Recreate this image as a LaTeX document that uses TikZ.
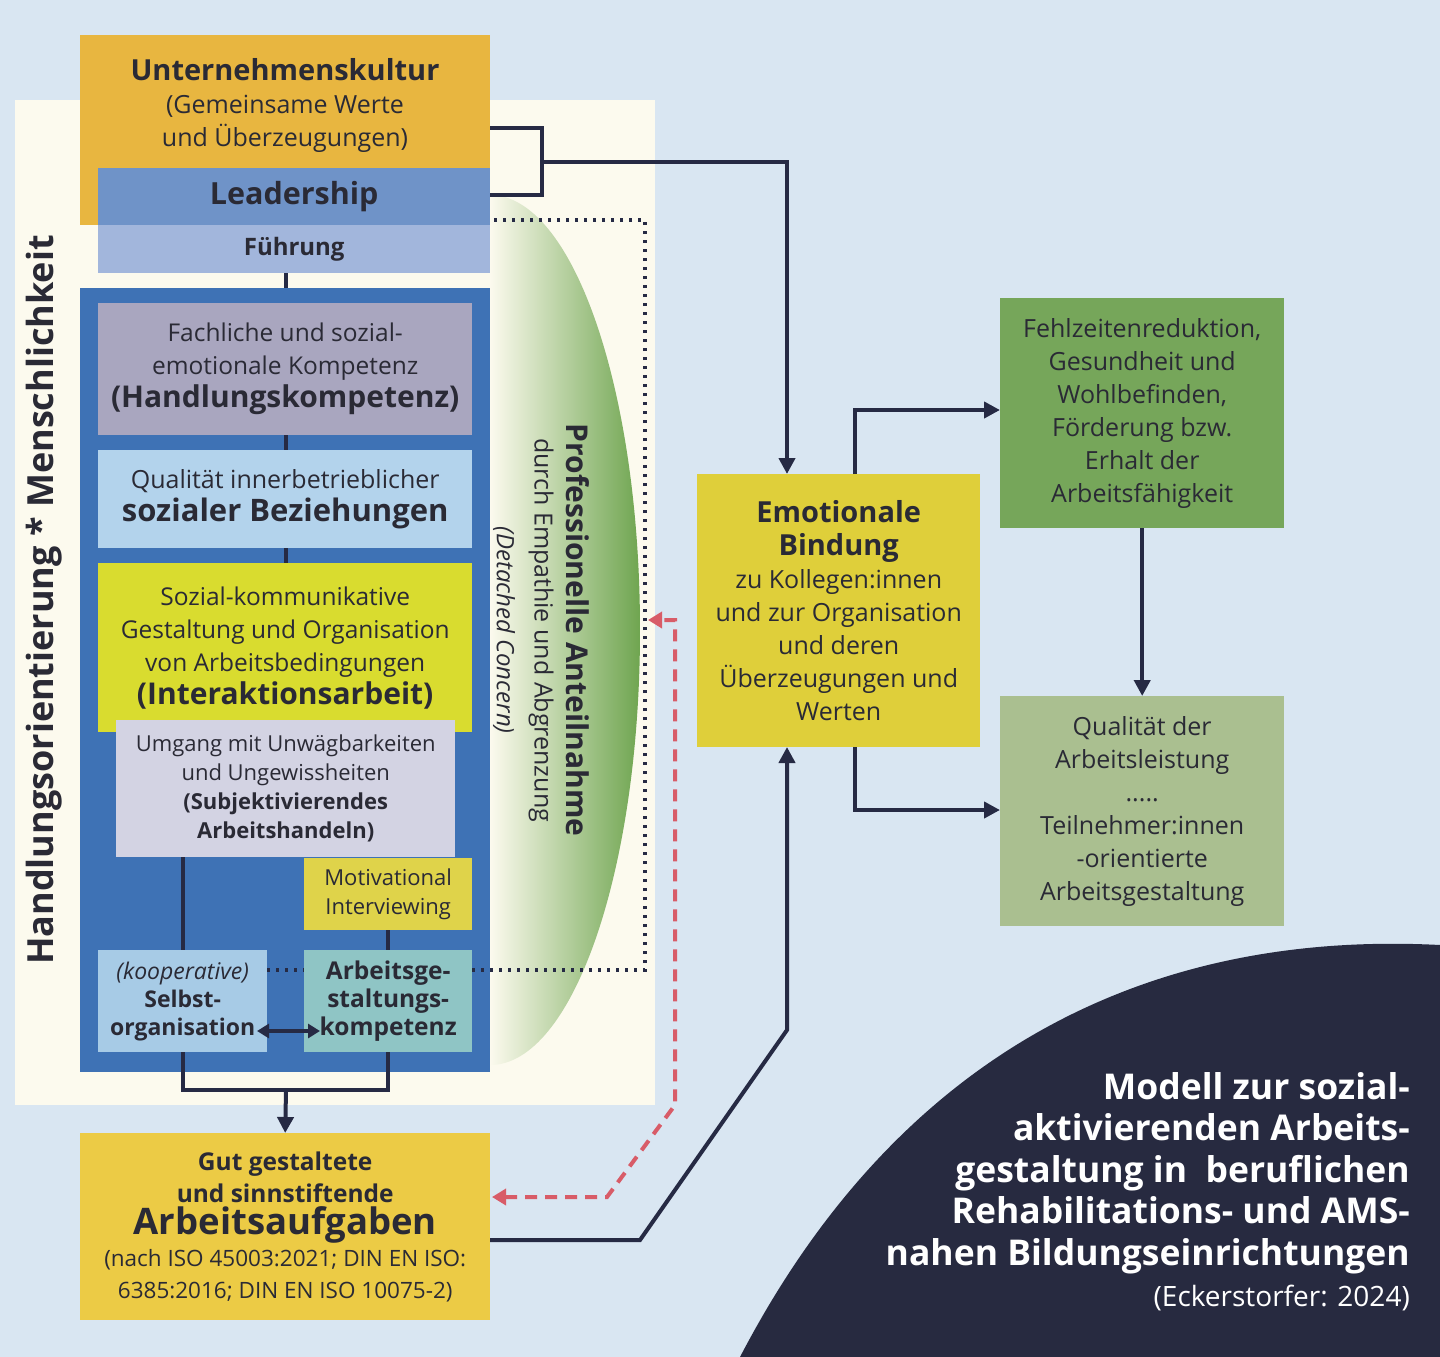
\documentclass[tikz,border=0pt]{standalone}
\usepackage{fontspec}
\setmainfont{Open Sans}
\usetikzlibrary{arrows.meta}
\definecolor{bg}{HTML}{D9E6F2}
\definecolor{cream}{HTML}{FCFAEE}
\definecolor{orng}{HTML}{E8B640}
\definecolor{lead}{HTML}{6F93C8}
\definecolor{fuehr}{HTML}{A2B6DC}
\definecolor{bigblue}{HTML}{3E72B5}
\definecolor{gray1}{HTML}{A9A6BF}
\definecolor{lblue}{HTML}{B3D3EC}
\definecolor{ylw}{HTML}{D9DC2F}
\definecolor{lgray}{HTML}{D3D3E3}
\definecolor{motiv}{HTML}{DFD34A}
\definecolor{selbst}{HTML}{A7CBE6}
\definecolor{teal1}{HTML}{8FC5C5}
\definecolor{gut}{HTML}{ECCB45}
\definecolor{emo}{HTML}{DFCF3A}
\definecolor{grn}{HTML}{76A65A}
\definecolor{lgrn}{HTML}{AABF90}
\definecolor{navy}{HTML}{272A40}
\definecolor{ln}{HTML}{262A44}
\definecolor{red1}{HTML}{D85C68}
\definecolor{txt}{HTML}{2A2A35}
\definecolor{ellg}{HTML}{6FA550}
\newcommand{\fs}[2]{\fontsize{#1}{#2}\selectfont}
\begin{document}
\begin{tikzpicture}[x=1pt,y=-1pt,
  box/.style={draw=none,inner sep=0pt,align=center,text=txt},
  conn/.style={draw=ln,line width=4pt},
  arr/.style={conn,-{Triangle[length=16pt,width=16pt]}},
]
\fill[bg] (0,0) rectangle (1440,1357);
\useasboundingbox (0,0) rectangle (1440,1357);
\fill[cream] (15,100) rectangle (655,1105);
\shade[left color=cream,right color=ellg] (490,195) arc[start angle=-90,end angle=90,x radius=150,y radius=435] -- cycle;
% left column
\node[box,fill=orng,minimum width=410pt,minimum height=190pt,anchor=north west] (uk) at (80,35) {};
\node[txt,align=center,anchor=north,inner sep=0pt,font=\fs{25}{33}] at (285,58) {\fs{29}{33}\bfseries Unternehmenskultur\\(Gemeinsame Werte\\und Überzeugungen)};
\node[box,fill=lead,minimum width=392pt,minimum height=57pt,anchor=north west,font=\fs{30.5}{33}\bfseries] (lead) at (98,168) {Leadership};
\node[box,fill=fuehr,minimum width=392pt,minimum height=48pt,anchor=north west,font=\fs{24}{30}\bfseries] (fu) at (98,225) {Führung};
\fill[bigblue] (80,288) rectangle (490,1072);
\draw[conn] (286,273) -- (286,288);
\draw[conn] (286,430) -- (286,455);
\draw[conn] (286,545) -- (286,568);
\node[box,fill=gray1,minimum width=374pt,minimum height=132pt,anchor=north west,font=\fs{24.5}{33}] (hk) at (98,303) {Fachliche und sozial-\\emotionale Kompetenz\\\fs{30}{33}\bfseries (Handlungskompetenz)};
\node[box,fill=lblue,minimum width=374pt,minimum height=98pt,anchor=north west,font=\fs{25}{33}] (qb) at (98,450) {Qualität innerbetrieblicher\\\fs{31}{33}\bfseries sozialer Beziehungen};
\node[box,fill=ylw,minimum width=374pt,minimum height=169pt,anchor=north west,font=\fs{24.5}{33}] (ia) at (98,563) {Sozial-kommunikative\\Gestaltung und Organisation\\von Arbeitsbedingungen\\\fs{30}{33}\bfseries (Interaktionsarbeit)};
\node[box,fill=lgray,minimum width=339pt,minimum height=137pt,anchor=north west,font=\fs{22}{29}] (um) at (116,720) {Umgang mit Unwägbarkeiten\\und Ungewissheiten\\\bfseries (Subjektivierendes\\\bfseries Arbeitshandeln)};
\node[box,fill=motiv,minimum width=168pt,minimum height=72pt,anchor=north west,font=\fs{22}{29}] (mi) at (304,858) {Motivational\\Interviewing};
\node[box,fill=selbst,minimum width=169pt,minimum height=102pt,anchor=north west,font=\fs{23}{28}] (so) at (98,950) {\itshape (kooperative)\\\bfseries Selbst-\\\bfseries organisation};
\node[box,fill=teal1,minimum width=168pt,minimum height=102pt,anchor=north west,font=\fs{24.5}{28}\bfseries] (ag) at (304,950) {Arbeitsge-\\staltungs-\\kompetenz};
\draw[conn] (183,857) -- (183,950);
\draw[conn] (388,930) -- (388,950);
\draw[conn] (183,1052) -- (183,1090) -- (388,1090) -- (388,1052);
\draw[draw=ln,line width=4pt,{Triangle[length=12pt,width=14pt]}-{Triangle[length=12pt,width=14pt]}] (257,1031) -- (320,1031);
\draw[ln,line width=4pt,dash pattern=on 3pt off 6pt] (267,970) -- (304,970);
\draw[ln,line width=4pt,dash pattern=on 3pt off 6pt] (472,970) -- (645,970) -- (645,220) -- (490,220);
\node[box,fill=gut,minimum width=410pt,minimum height=187pt,anchor=north west,font=\fs{24.5}{32}\bfseries] (gut) at (80,1133) {Gut gestaltete\\und sinnstiftende\\\fs{36.5}{32}Arbeitsaufgaben\\\fs{22.5}{31}\mdseries (nach ISO 45003:2021; DIN EN ISO:\\\fs{22.5}{29}\mdseries 6385:2016; DIN EN ISO 10075-2)};
\coordinate (gj) at (286,1090);
\draw[arr] (gj) -- (gut.north);
% rotated texts
\node[rotate=90,txt,font=\fs{36}{40}\bfseries] at (44,600) {Handlungsorientierung * Menschlichkeit};
\node[rotate=-90,txt,font=\fs{30}{32}\bfseries] at (578,630) {Professionelle Anteilnahme};
\node[rotate=-90,txt,font=\fs{25}{26}] at (541,630) {durch Empathie und Abgrenzung};
\node[rotate=-90,txt,font=\fs{24}{26}\itshape] at (504,630) {(Detached Concern)};
% right part
\fill[navy] (740,1357) .. controls (900,1050) and (1150,930) .. (1440,945) -- (1440,1357) -- cycle;
\node[anchor=north east,align=right,text=white,inner sep=0pt,font=\fs{35.5}{41.5}\bfseries] at (1410,1072) {Modell zur sozial-\\aktivierenden Arbeits-\\gestaltung in\ \ beruflichen\\Rehabilitations- und AMS-\\nahen Bildungseinrichtungen\\\fs{28}{38}\mdseries (Eckerstorfer: 2024)};
\node[box,fill=emo,minimum width=283pt,minimum height=273pt,anchor=north west,font=\fs{25}{33}] (emo) at (697,474) {\fs{29}{35}\bfseries Emotionale\\\fs{29}{35}\bfseries Bindung\\zu Kollegen:innen\\und zur Organisation\\und deren\\Überzeugungen und\\Werten};
\node[box,fill=grn,minimum width=284pt,minimum height=230pt,anchor=north west,font=\fs{25}{33}] (fz) at (1000,298) {Fehlzeitenreduktion,\\Gesundheit und\\Wohlbefinden,\\Förderung bzw.\\Erhalt der\\Arbeitsfähigkeit};
\node[box,fill=lgrn,minimum width=284pt,minimum height=230pt,anchor=north west,font=\fs{25}{33}] (qa) at (1000,696) {Qualität der\\Arbeitsleistung\\\fs{25}{24}.....\\Teilnehmer:innen\\-orientierte\\Arbeitsgestaltung};
\draw[conn] (490,128) -- (542,128) -- (542,195) -- (490,195);
\draw[arr] (542,162) -- (787,162) -- (787,474);
\draw[arr] (855,474) -- (855,410) -- (1000,410);
\draw[arr] (855,747) -- (855,810) -- (1000,810);
\draw[arr] (fz.south) -- (qa.north);
\draw[arr] (490,1240) -- (640,1240) -- (787,1030) -- (787,747);
\draw[draw=red1,line width=4pt,dash pattern=on 12pt off 8pt,{Triangle[length=14pt,width=16pt]}-{Triangle[length=14pt,width=16pt]}] (492,1197) -- (607,1197) -- (675,1105) -- (675,620) -- (648,620);
\end{tikzpicture}
\end{document}
